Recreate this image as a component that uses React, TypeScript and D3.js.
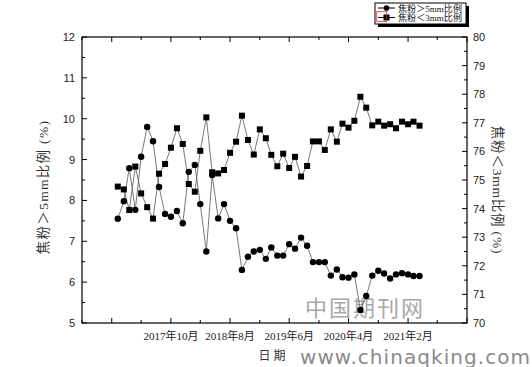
import React, { useEffect, useRef } from 'react';
import * as d3 from 'd3';

// monthly samples, Jan 2017 .. Apr 2021
const firstMonth = new Date(2017, 0, 1);
const coarseShare = [
  7.55, 7.98, 8.79, 7.77, 9.07, 9.80, 9.45, 8.33, 7.67, 7.60, 7.74, 7.44, 8.70,
  8.87, 7.91, 6.75, 8.62, 7.56, 7.91, 7.50, 7.32, 6.30, 6.62, 6.75, 6.79, 6.57,
  6.85, 6.65, 6.65, 6.93, 6.82, 7.09, 6.89, 6.49, 6.49, 6.49, 6.16, 6.31, 6.12,
  6.11, 6.19, 5.32, 5.66, 6.16, 6.28, 6.21, 6.09, 6.19, 6.22, 6.19, 6.15, 6.15
];
const fineShare = [
  74.77, 74.67, 73.95, 75.47, 74.53, 74.05, 73.65, 75.22, 75.56, 76.13, 76.81, 76.26, 74.86,
  74.59, 76.02, 77.19, 75.27, 75.23, 75.35, 75.95, 76.34, 77.25, 76.40, 75.89, 76.77, 76.46,
  75.88, 75.48, 75.92, 75.42, 75.81, 75.12, 75.49, 76.35, 76.35, 76.05, 76.77, 76.34, 76.97,
  76.83, 77.07, 77.91, 77.53, 76.91, 77.04, 76.90, 76.95, 76.81, 77.04, 76.95, 77.04, 76.90
];
const xLabels = ['2017年10月', '2018年8月', '2019年6月', '2020年4月', '2021年2月'];
const leftTicks = [5, 6, 7, 8, 9, 10, 11, 12];
const rightTicks = [70, 71, 72, 73, 74, 75, 76, 77, 78, 79, 80];
const legendNames = ['焦粉＞5mm比例', '焦粉＜3mm比例'];

interface Pt { date: Date; value: number; }

export default function App() {
  const svgRef = useRef<SVGSVGElement>(null);

  useEffect(() => {
    document.body.style.margin = '0';
    if (!svgRef.current) return;
    const svg = d3.select(svgRef.current);
    svg.selectAll('*').remove();

    const L = 82, R = 467, T = 37, B = 323;
    const sans = '"Liberation Sans", Arial, sans-serif';
    const serif = '"Liberation Serif", "Noto Sans CJK SC", serif';

    const x = d3.scaleTime()
      .domain([new Date(2016, 6, 1), new Date(2021, 11, 1)])
      .range([L, R]);
    const yL = d3.scaleLinear().domain([5, 12]).range([B, T]);
    const yR = d3.scaleLinear().domain([70, 80]).range([B, T]);

    const dates = coarseShare.map((_, i) => d3.timeMonth.offset(firstMonth, i));
    const s1: Pt[] = coarseShare.map((v, i) => ({ date: dates[i], value: v }));
    const s2: Pt[] = fineShare.map((v, i) => ({ date: dates[i], value: v }));

    // frame
    svg.append('rect')
      .attr('x', L).attr('y', T).attr('width', R - L).attr('height', B - T)
      .attr('fill', 'none').attr('stroke', '#000').attr('stroke-width', 1.2);

    // x ticks (inward, top and bottom)
    const xTicks = d3.timeMonth.range(new Date(2016, 6, 1), new Date(2021, 11, 2), 5);
    const fmt = (d: Date) => `${d.getFullYear()}年${d.getMonth() + 1}月`;
    xTicks.forEach((d, i) => {
      const len = i % 2 === 1 ? 5 : 3;
      const px = x(d);
      svg.append('line').attr('x1', px).attr('x2', px).attr('y1', B).attr('y2', B - len)
        .attr('stroke', '#000');
      svg.append('line').attr('x1', px).attr('x2', px).attr('y1', T).attr('y2', T + len)
        .attr('stroke', '#000');
      if (xLabels.includes(fmt(d))) {
        svg.append('text').attr('x', px).attr('y', 340).attr('text-anchor', 'middle')
          .attr('font-family', serif).attr('font-size', 11).attr('fill', '#222')
          .text(fmt(d));
      }
    });

    // left axis ticks
    d3.range(5, 12.01, 0.5).forEach(v => {
      const major = Number.isInteger(v);
      svg.append('line').attr('x1', L).attr('x2', L + (major ? 5 : 3))
        .attr('y1', yL(v)).attr('y2', yL(v)).attr('stroke', '#000');
    });
    leftTicks.forEach(v => {
      svg.append('text').attr('x', 75).attr('y', yL(v) + 4).attr('text-anchor', 'end')
        .attr('font-family', sans).attr('font-size', 11).attr('fill', '#222').text(v);
    });

    // right axis ticks
    d3.range(70, 80.01, 0.5).forEach(v => {
      const major = Number.isInteger(v);
      svg.append('line').attr('x1', R).attr('x2', R - (major ? 5 : 3))
        .attr('y1', yR(v)).attr('y2', yR(v)).attr('stroke', '#000');
    });
    rightTicks.forEach(v => {
      svg.append('text').attr('x', 473).attr('y', yR(v) + 4)
        .attr('font-family', sans).attr('font-size', 11).attr('fill', '#222').text(v);
    });

    // axis titles
    svg.append('text').attr('transform', 'translate(48,187) rotate(-90)')
      .attr('text-anchor', 'middle').attr('font-family', serif).attr('font-size', 13.5)
      .attr('letter-spacing', 1.3).attr('fill', '#333').text('焦粉＞5mm比例 (%)');
    svg.append('text').attr('transform', 'translate(493,190) rotate(90)')
      .attr('text-anchor', 'middle').attr('font-family', serif).attr('font-size', 13.5)
      .attr('letter-spacing', 0.8).attr('fill', '#333').text('焦粉＜3mm比例 (%)');
    svg.append('text').attr('x', 272).attr('y', 360).attr('text-anchor', 'middle')
      .attr('font-family', serif).attr('font-size', 12).attr('fill', '#333')
      .attr('xml:space', 'preserve').text('日 期');

    // watermarks
    svg.append('text').attr('x', 365).attr('y', 316).attr('text-anchor', 'middle')
      .attr('font-family', serif).attr('font-size', 22).attr('fill', '#a8a8a8')
      .attr('letter-spacing', 2).text('中国期刊网');
    svg.append('text').attr('x', 300).attr('y', 364)
      .attr('font-family', '"DejaVu Sans", sans-serif').attr('font-size', 20)
      .attr('fill', '#8a8a8a').attr('textLength', 230).text('www.chinaqking.com');

    // lines
    const line1 = d3.line<Pt>().x(d => x(d.date)).y(d => yL(d.value));
    const line2 = d3.line<Pt>().x(d => x(d.date)).y(d => yR(d.value));
    svg.append('path').datum(s1).attr('d', line1).attr('fill', 'none')
      .attr('stroke', '#555').attr('stroke-width', 0.8);
    svg.append('path').datum(s2).attr('d', line2).attr('fill', 'none')
      .attr('stroke', '#555').attr('stroke-width', 0.8);

    svg.selectAll('.sq').data(s2).enter().append('rect')
      .attr('x', d => x(d.date) - 3).attr('y', d => yR(d.value) - 3)
      .attr('width', 6).attr('height', 6).attr('fill', '#000');
    svg.selectAll('.ci').data(s1).enter().append('circle')
      .attr('cx', d => x(d.date)).attr('cy', d => yL(d.value)).attr('r', 3.2)
      .attr('fill', '#000');

    // legend
    const lg = svg.append('g');
    lg.append('rect').attr('x', 378).attr('y', 6).attr('width', 91).attr('height', 21)
      .attr('fill', '#000');
    lg.append('rect').attr('x', 375).attr('y', 3).attr('width', 91).attr('height', 21)
      .attr('fill', '#fff').attr('stroke', '#000').attr('stroke-width', 1);
    legendNames.forEach((name, i) => {
      const cy = 8 + i * 9.5;
      lg.append('line').attr('x1', 378).attr('x2', 395).attr('y1', cy).attr('y2', cy)
        .attr('stroke', '#000');
      if (i === 0) {
        lg.append('circle').attr('cx', 386.5).attr('cy', cy).attr('r', 2.8).attr('fill', '#000');
      } else {
        lg.append('rect').attr('x', 383.5).attr('y', cy - 3).attr('width', 6).attr('height', 6)
          .attr('fill', '#000');
      }
      lg.append('text').attr('x', 398).attr('y', cy + 3.5).attr('font-family', serif)
        .attr('font-size', 9).attr('textLength', 64).attr('lengthAdjust', 'spacingAndGlyphs')
        .attr('fill', '#111').text(name);
    });
    lg.append('rect').attr('x', 376.7).attr('y', 11.7).attr('width', 10).attr('height', 10)
      .attr('fill', 'none').attr('stroke', '#e03030').attr('stroke-width', 0.8);
  }, []);

  return <svg ref={svgRef} width={532} height={367} style={{ display: 'block', background: '#fff' }} />;
}
